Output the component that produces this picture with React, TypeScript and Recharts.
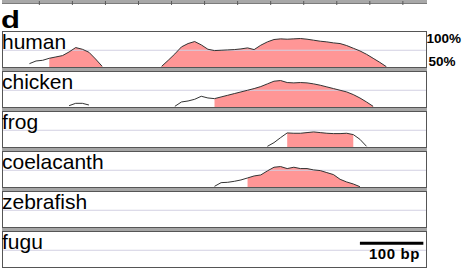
import { ComposedChart, Line, Area, XAxis, YAxis, ReferenceLine } from 'recharts';

// alignment positions (bp) shared by every track
const positions = [
  30, 40, 50, 60, 70, 80, 90, 100, 110, 120, 130, 140, 150, 160, 170, 180, 190, 200, 210,
  220, 230, 240, 250, 260, 270, 280, 290, 300, 310, 320, 330, 340, 350, 360, 370, 380, 390,
  400, 410, 420, 430, 440, 450, 460, 470, 480, 490, 500, 510, 520, 530, 540, 550, 560, 570,
  580, 590,
];

// % identity per position, null = below 50%
const human = [
  null, 55, 59, 60, 63, 65, 67, 72.5, 79, 76.5, 72, 62, 51, null, null, null, null, null, null,
  null, null, 51, 60, 69.5, 80, 85, 88, 83, 76.5, 74.5, 75, 75.5, 76, 77, 78.5, 76, 82.5,
  87.5, 91, 92, 91.5, 92, 92.5, 91.5, 90, 88.5, 87.5, 86, 85, 82, 78, 74, 69, 63, 57,
  50.5, null,
];
const chicken = [
  null, null, null, null, null, null, null, 52, 55.5, 55.5, 53, null, null, null, null, null, null, null, null,
  null, null, null, null, 51, 57.5, 59, 61.5, 66, 63.5, 62.5, 65, 67.5, 70, 72.5, 75, 77.5, 80.5,
  84.5, 88.5, 89.5, 86.5, 86, 86.5, 86, 84.5, 82.5, 80, 77.5, 75, 72.5, 68.5, 63.5, 57.5, 51, null,
  null, null,
];
const frog = [
  null, null, null, null, null, null, null, null, null, null, null, null, null, null, null, null, null, null, null,
  null, null, null, null, null, null, null, null, null, null, null, null, null, null, null, null, null, null,
  51, 56.5, 64, 71, 70.5, 70.5, 71.5, 72.5, 71.5, 70.5, 70, 70, 70.5, 68.5, 61.5, 51, null, null,
  null, null,
];
const coelacanth = [
  null, null, null, null, null, null, null, null, null, null, null, null, null, null, null, null, null, null, null,
  null, null, null, null, null, null, null, null, null, null, 51, 56.5, 57, 58.5, 60.5, 63.5, 66.5, 68,
  74, 79.5, 80.5, 77.5, 79.5, 77.5, 77.5, 75.5, 74.5, 71.5, 68.5, 61.5, 57.5, 54.5, 50.5, null, null, null,
  null, null,
];
const zebrafish: (number | null)[] = [];
const fugu: (number | null)[] = [];

// conserved regions (start, end bp) shaded pink
const humanCns = [[70, 150], [240, 580]];
const chickenCns = [[320, 560]];
const frogCns = [[430, 530]];
const coelacanthCns = [[370, 540]];

const species = ['human', 'chicken', 'frog', 'coelacanth', 'zebrafish', 'fugu'];
const tracks = [human, chicken, frog, coelacanth, zebrafish, fugu];
const regions = [humanCns, chickenCns, frogCns, coelacanthCns, [], []];

const rulerTicks = [55, 105, 155, 205, 255, 305, 355, 405, 455, 505, 555, 605];
const yLabels = ['100%', '50%'];
const scaleBar = [540, 636];
const scaleBarLabel = '100 bp';

const FONT = '"Liberation Sans", Arial, sans-serif';
const TOP = 31;
const PITCH = 40;
const LEFT = 2;
const WIDTH = 425;
const HEIGHT = 37;
const PINK = '#ff9696';

function Track({ index }: { index: number }) {
  const values = tracks[index];
  const cns = regions[index];
  const data = positions.map((pos, i) => {
    const v = values[i] ?? null;
    const inside = cns.some(([a, b]) => pos >= a && pos <= b);
    return { pos, pct: v, cns: inside ? v : null };
  });
  const isLast = index === species.length - 1;

  return (
    <div
      style={{
        position: 'absolute',
        left: LEFT,
        top: TOP + index * PITCH,
        width: WIDTH,
        height: HEIGHT,
        boxSizing: 'border-box',
        border: '1px solid #555',
        background: '#fff',
      }}
    >
      <ComposedChart width={423} height={35} data={data} margin={{ top: 1.5, right: 0, bottom: 0, left: 0 }}>
        <XAxis dataKey="pos" type="number" domain={[0, 640]} hide />
        <YAxis type="number" domain={[50, 100]} hide allowDataOverflow />
        <ReferenceLine y={75} stroke="#d2d0e2" strokeWidth={1} />
        <Area
          type="linear"
          dataKey="cns"
          baseValue={50}
          stroke="none"
          fill={PINK}
          fillOpacity={1}
          activeDot={false}
          isAnimationActive={false}
        />
        <Line
          type="linear"
          dataKey="pct"
          stroke="#333"
          strokeWidth={1}
          dot={false}
          activeDot={false}
          isAnimationActive={false}
        />
        {isLast && (
          <ReferenceLine
            segment={[
              { x: scaleBar[0], y: 85.5 },
              { x: scaleBar[1], y: 85.5 },
            ]}
            stroke="#000"
            strokeWidth={3}
          />
        )}
      </ComposedChart>
      <div
        style={{
          position: 'absolute',
          left: -1,
          top: -1,
          fontFamily: FONT,
          fontSize: 21,
          lineHeight: '21px',
          color: '#000',
          whiteSpace: 'nowrap',
        }}
      >
        {species[index]}
      </div>
    </div>
  );
}

export default function App() {
  return (
    <div
      style={{
        position: 'absolute',
        left: 0,
        top: 0,
        width: 462,
        height: 268,
        background: '#fff',
        overflow: 'hidden',
      }}
    >
      {/* ruler */}
      <div
        style={{
          position: 'absolute',
          left: LEFT,
          top: 0,
          width: WIDTH,
          height: 3,
          background: '#a8a8a8',
          borderBottom: '1px solid #7c7c7c',
        }}
      />
      <div style={{ position: 'absolute', left: 3, top: 1 }}>
        <ComposedChart
          width={423}
          height={4}
          data={rulerTicks.map((t) => ({ pos: t, v: 0.5 }))}
          margin={{ top: 0, right: 0, bottom: 0, left: 0 }}
        >
          <XAxis dataKey="pos" type="number" domain={[0, 640]} hide />
          <YAxis type="number" domain={[0, 1]} hide />
          <Line dataKey="v" stroke="none" dot={false} activeDot={false} isAnimationActive={false} />
          {rulerTicks.map((t) => (
            <ReferenceLine key={t} x={t} stroke="#5a5a5a" strokeWidth={1} />
          ))}
        </ComposedChart>
      </div>

      <div
        style={{
          position: 'absolute',
          left: 0.5,
          top: 8.8,
          fontFamily: FONT,
          fontWeight: 'bold',
          fontSize: 23,
          lineHeight: '23px',
          transform: 'scaleX(1.35)',
          transformOrigin: 'left top',
        }}
      >
        d
      </div>

      {/* gray separators between tracks */}
      <div
        style={{
          position: 'absolute',
          left: LEFT,
          top: TOP,
          width: WIDTH,
          height: 268 - TOP,
          background: '#a6a6a6',
        }}
      />
      {species.map((s, i) => (
        <Track key={s} index={i} />
      ))}

      <div
        style={{
          position: 'absolute',
          left: 426.5,
          top: 31.9,
          fontFamily: FONT,
          fontWeight: 'bold',
          fontSize: 13.5,
          lineHeight: '13.5px',
        }}
      >
        {yLabels[0]}
      </div>
      <div
        style={{
          position: 'absolute',
          left: 428.5,
          top: 55.3,
          fontFamily: FONT,
          fontWeight: 'bold',
          fontSize: 13.5,
          lineHeight: '13.5px',
        }}
      >
        {yLabels[1]}
      </div>

      <div
        style={{
          position: 'absolute',
          left: 330,
          width: 90,
          top: 245.6,
          textAlign: 'right',
          fontFamily: FONT,
          fontWeight: 'bold',
          fontSize: 15,
          lineHeight: '15px',
          letterSpacing: 0.6,
        }}
      >
        {scaleBarLabel}
      </div>
    </div>
  );
}
